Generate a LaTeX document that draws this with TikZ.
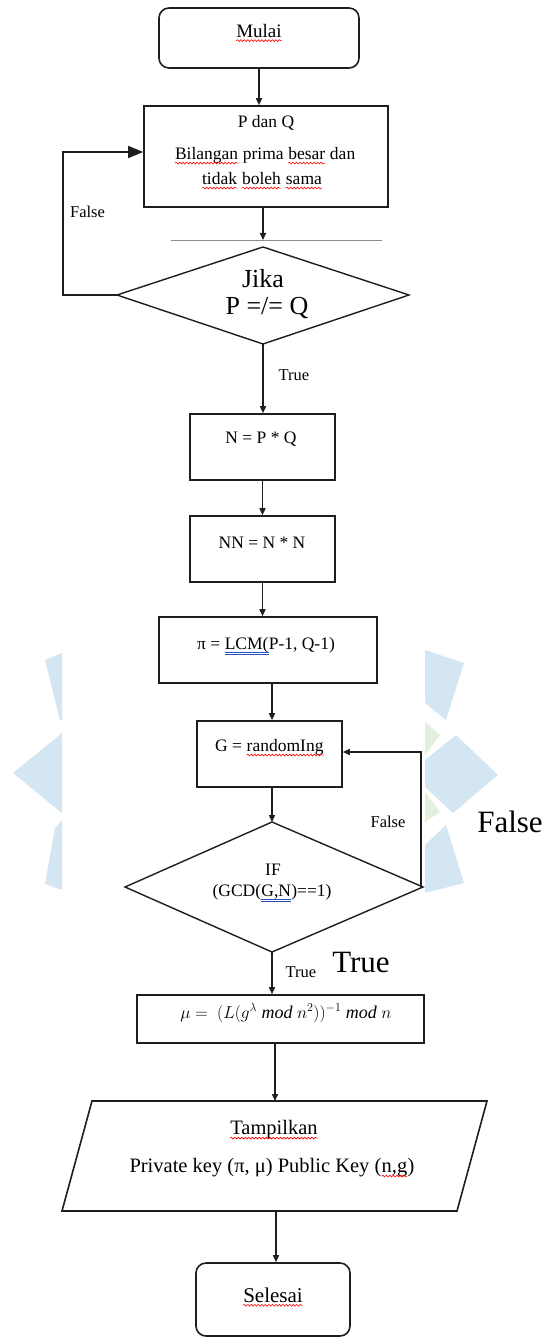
\documentclass[tikz,border=0pt]{standalone}
\usepackage{fontspec}
\setmainfont{Liberation Serif}
\usetikzlibrary{arrows.meta,decorations.pathmorphing}

\definecolor{wmblue}{RGB}{213,230,243}
\definecolor{wmgreen}{RGB}{228,239,220}
\definecolor{inkline}{RGB}{30,30,30}
\definecolor{markblue}{RGB}{40,80,190}

% spelling (red wave) and grammar (blue double line) marks under words
\newcommand\spellmark[1]{\tikz[baseline=(sw.base)]{%
  \node[inner sep=0pt, outer sep=0pt, draw=none] (sw) {#1};
  \draw[red, line width=0.6pt, decorate,
        decoration={snake, amplitude=0.9pt, segment length=3.5pt}]
    ([yshift=-3.2pt]sw.base west) -- ([yshift=-3.2pt]sw.base east);}}
\newcommand\grammark[1]{\tikz[baseline=(gw.base)]{%
  \node[inner sep=0pt, outer sep=0pt, draw=none] (gw) {#1};
  \draw[markblue, line width=0.5pt]
    ([yshift=-2.2pt]gw.base west) -- ([yshift=-2.2pt]gw.base east)
    ([yshift=-4pt]gw.base west) -- ([yshift=-4pt]gw.base east);}}

\tikzset{
  box/.style={draw=inkline, line width=1.6pt, inner sep=0pt},
  diaedge/.style={draw=inkline, line width=1.4pt, line join=miter},
  txt/.style={inner sep=0pt, font=\fontsize{17.5}{21}\selectfont},
  lbl/.style={inner sep=0pt, font=\fontsize{16.5}{20}\selectfont},
  biglbl/.style={inner sep=0pt, font=\fontsize{31}{36}\selectfont},
  flow/.style={draw=inkline, line width=1.5pt, -{Triangle[length=7pt,width=6pt]}},
  bigflow/.style={draw=inkline, line width=1.5pt, -{Triangle[length=15pt,width=12pt]}},
  thinrule/.style={draw=black!45, line width=0.6pt},
  wm/.style={fill=wmblue, draw=none},
}

\begin{document}
\begin{tikzpicture}[x=1pt,y=-1pt]
\useasboundingbox[fill=white] (0,0) rectangle (546,1340);

% faint logo pieces in the background
\fill[wm] (45,660) -- (62,653) -- (62,720) -- (60,720) -- cycle;
\fill[wm] (13,773) -- (62,733) -- (62,813) -- cycle;
\fill[wm] (55,828) -- (62,820) -- (62,890) -- (45,884) -- cycle;
\fill[wm] (425,650) -- (464,663) -- (446,720) -- (425,703) -- cycle;
\fill[wm] (425,760) -- (456,735) -- (498,775) -- (453,813) -- (425,787) -- cycle;
\fill[wm] (446,825) -- (464,883) -- (425,893) -- (425,845) -- cycle;
\fill[wmgreen] (425,722) -- (440,735) -- (425,755) -- cycle;
\fill[wmgreen] (425,792) -- (440,812) -- (425,822) -- cycle;

% start
\node[box, rounded corners=10pt, minimum width=200pt, minimum height=60pt] (start) at (259,38) {};
\node[txt, font=\fontsize{19}{22}\selectfont] (startt) at (259,33) {\spellmark{Mulai}};

% input P and Q
\node[box, minimum width=244pt, minimum height=101pt] (pq) at (266,156.5) {};
\node[txt] (pqa) at (266,123) {P dan Q};
\node[txt] (pqb) at (265,156) {\spellmark{Bilangan} prima \spellmark{besar} dan};
\node[txt] (pqc) at (262,181) {\spellmark{tidak} \spellmark{boleh} \spellmark{sama}};

% thin rule above the first decision
\coordinate (gl0) at (171,240);
\coordinate (gl1) at (382,240);
\coordinate (gl) at (263,240);
\draw[thinrule] (gl0) -- (gl1);

% decision P =/= Q
\coordinate (d1t) at (263,247);
\coordinate (d1r) at (409,295);
\coordinate (d1b) at (263,344);
\coordinate (d1l) at (117,295);
\draw[diaedge] (d1t) -- (d1r) -- (d1b) -- (d1l) -- cycle;
\node[txt, font=\fontsize{26}{30}\selectfont] (d1a) at (263,279) {Jika};
\node[txt, font=\fontsize{26}{30}\selectfont] (d1c) at (267,308) {P =/= Q};

% process boxes
\node[box, minimum width=145pt, minimum height=66pt] (n1) at (262.5,447) {};
\node[txt] (n1t) at (261,439) {N = P * Q};
\node[box, minimum width=145pt, minimum height=66pt] (n2) at (262.5,549) {};
\node[txt] (n2t) at (262,543) {NN = N * N};
\node[box, minimum width=218pt, minimum height=66pt] (lam) at (268,650) {};
\node[txt] (lamt) at (266,646) {π = \grammark{LCM(}P-1, Q-1)};
\node[box, minimum width=145pt, minimum height=66pt] (gen) at (269.5,754) {};
\node[txt] (gent) at (269.5,748) {G = \spellmark{randomIng}};

% decision gcd
\coordinate (d2t) at (272,822);
\coordinate (d2r) at (423,887);
\coordinate (d2b) at (272,952);
\coordinate (d2l) at (125,887);
\draw[diaedge] (d2t) -- (d2r) -- (d2b) -- (d2l) -- cycle;
\node[txt] (d2a) at (273,870) {IF};
\node[txt] (d2c) at (272,893) {(GCD(\grammark{G,N})==1)};

% mu
\node[box, minimum width=287pt, minimum height=48pt] (mu) at (280.5,1019) {};
\node[inner sep=0pt, font=\fontsize{18}{20}\selectfont] (mut) at (286,1013)
  {$\mu =\ (L(g^{\lambda}\ \mathit{mod}\ n^{2}))^{-1}\ \mathit{mod}\ n$};

% output
\coordinate (pa) at (92,1101);
\coordinate (pb) at (487,1101);
\coordinate (pc) at (457,1211);
\coordinate (pd) at (62,1211);
\coordinate (ptop) at (275,1101);
\coordinate (pbot) at (276,1211);
\draw[box] (pa) -- (pb) -- (pc) -- (pd) -- cycle;
\node[txt, font=\fontsize{20.5}{24}\selectfont] (outa) at (274,1130) {\spellmark{Tampilkan}};
\node[txt, font=\fontsize{20.5}{24}\selectfont] (outb) at (272,1168) {Private key (π, μ) Public Key (\spellmark{n,g})};

% end
\node[box, rounded corners=10pt, minimum width=154pt, minimum height=73pt] (end) at (273,1299.5) {};
\node[txt, font=\fontsize{21}{24}\selectfont] (endt) at (273,1297) {\spellmark{Selesai}};

% connectors
\draw[flow] (start.south) -- (start.south |- pq.north);
\draw[flow] (pq.south -| gl) -- (gl);
\coordinate (lp) at (63,152);
\draw[bigflow] (d1l) -| (lp) -- (lp -| pq.west);
\node[lbl] (f1) at (87.5,212) {False};
\draw[flow] (d1b) -- (d1b |- n1.north);
\node[lbl] (t1) at (294,375) {True};
\draw[flow] (n1.south) -- (n2.north);
\draw[flow] (n2.south) -- (n2.south |- lam.north);
\draw[flow] (lam.south -| d2t) -- (gen.north -| d2t);
\draw[flow] (gen.south -| d2t) -- (d2t);
\coordinate (rp) at (421,752);
\draw[flow] (d2r) -| (rp) -- (rp -| gen.east);
\node[lbl] (f2) at (388,822) {False};
\node[biglbl] (f3) at (510,822) {False};
\draw[flow] (d2b) -- (d2b |- mu.north);
\node[lbl] (t2) at (301,972) {True};
\node[biglbl] (t3) at (361,962) {True};
\draw[flow] (mu.south -| ptop) -- (ptop);
\draw[flow] (pbot) -- (pbot |- end.north);
\end{tikzpicture}
\end{document}
